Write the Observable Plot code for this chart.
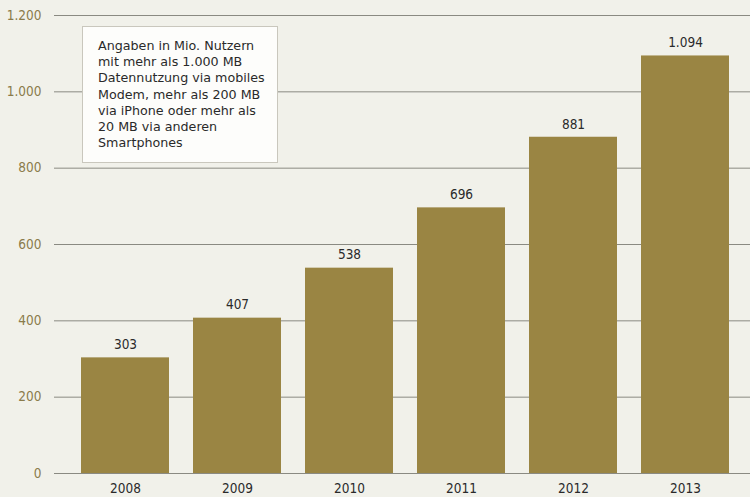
<!DOCTYPE html>
<html>
<head>
<meta charset="utf-8">
<script src="https://cdn.jsdelivr.net/npm/d3@7"></script>
<script src="https://cdn.jsdelivr.net/npm/@observablehq/plot@0.6"></script>
<style>
  html, body { margin: 0; padding: 0; background: #f1f1ea; }
  #wrap { position: relative; width: 750px; height: 497px; font-family: "DejaVu Sans Condensed", "DejaVu Sans", sans-serif; }
  #note {
    position: absolute; left: 82px; top: 26px; width: 196px; height: 137px; box-sizing: border-box;
    background: #fdfdfb; border: 1px solid #c9c7bd; padding: 11px 0 0 15px;
    font-family: "DejaVu Sans", sans-serif;
    font-size: 12.7px; line-height: 16.2px; color: #2a2a2a;
  }
  svg text { font-family: "DejaVu Sans Condensed", "DejaVu Sans", sans-serif; }
</style>
</head>
<body>
<div id="wrap">
  <div id="chart"></div>
  <div id="note">Angaben in Mio. Nutzern<br>mit mehr als 1.000 MB<br>Datennutzung via mobiles<br>Modem, mehr als 200 MB<br>via iPhone oder mehr als<br>20 MB via anderen<br>Smartphones</div>
</div>
<script>
const years = ["2008", "2009", "2010", "2011", "2012", "2013"];
const users = [303, 407, 538, 696, 881, 1094];
const yTicks = [0, 200, 400, 600, 800, 1000, 1200];

const de = d3.formatLocale({decimal: ",", thousands: ".", grouping: [3], currency: ["", " €"]});
const fmt = de.format(",d");

const data = years.map((y, i) => ({year: y, value: users[i]}));

const chart = Plot.plot({
  width: 750,
  height: 497,
  marginLeft: 54,
  marginRight: 0,
  marginTop: 15,
  marginBottom: 24,
  style: {background: "transparent", fontSize: "13px"},
  x: {domain: years, paddingInner: 0.21, paddingOuter: 0.212, align: 0.56, label: null},
  y: {domain: [0, 1200], ticks: yTicks, label: null},
  marks: [
    Plot.ruleY(yTicks, {stroke: "#8a8a82", strokeWidth: 1}),
    Plot.barY(data, {x: "year", y: "value", fill: "#9a8543"}),
    Plot.text(data, {x: "year", y: "value", text: d => fmt(d.value), dy: -13, fill: "#2a2a2a", fontSize: 13.5}),
    Plot.ruleX([0], {frameAnchor: "left", stroke: "#66665f"}),
    Plot.axisY({ticks: yTicks, tickFormat: fmt, tickSize: 0, tickPadding: 13, fill: "#8a7b4a", fontSize: 13.5}),
    Plot.axisX({tickSize: 0, tickPadding: 10, fill: "#2a2a2a", fontSize: 13.5})
  ]
});
document.getElementById("chart").appendChild(chart);
</script>
</body>
</html>
